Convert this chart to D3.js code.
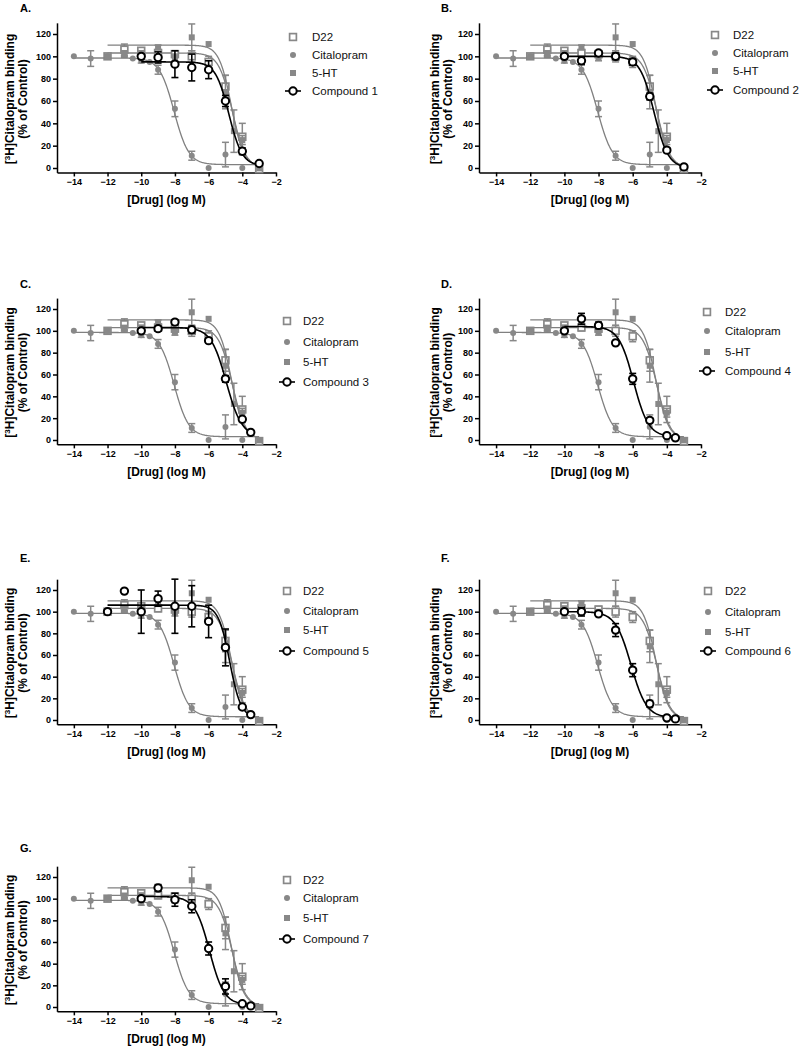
<!DOCTYPE html>
<html><head><meta charset="utf-8">
<script src="https://cdn.jsdelivr.net/npm/d3@7/dist/d3.min.js"></script>
<style>body{margin:0;background:#fff}svg{display:block}</style>
</head><body>
<svg id="chart" width="800" height="1047"></svg>
<script>
// ---------- data ----------
const xTicks = [-14, -12, -10, -8, -6, -4, -2];
const yTicks = [0, 20, 40, 60, 80, 100, 120];
const panelLetters = ["A.", "B.", "C.", "D.", "E.", "F.", "G."];
const refNames = ["D22", "Citalopram", "5-HT"];
const compoundNames = ["Compound 1", "Compound 2", "Compound 3", "Compound 4", "Compound 5", "Compound 6", "Compound 7"];

// reference series (same in every panel)
const d22X   = [-12, -11, -10, -9, -8, -7, -6, -5, -4, -3];
const d22Y   = [100, 106, 105, 103, 102, 100, 95, 73, 28, -1];
const d22Err = [1, 5, 2, 3, 3, 5, 5, 10, 12, 1];

const citX   = [-14, -13, -12, -11, -10.5, -10, -9.5, -9, -8, -7, -6, -5, -4];
const citY   = [100, 98, 100, 102, 98, 96, 95, 88, 53, 11, 0, 12, 0];
const citErr = [0, 7, 0, 3, 0, 2, 0, 4, 7, 4, 0, 11, 0];

const htX    = [-12, -11, -10, -9, -8, -7, -6, -5, -4.5, -4, -3];
const htY    = [100, 102, 103, 108, 99, 117, 111, 68, 33, 25, 0];
const htErr  = [0, 2, 2, 2, 3, 12, 0, 15, 19, 4, 0];

// fitted curve parameters: [top, bottom, logIC50, hill, xStart, xEnd]
const d22Fit = [103, 0, -4.6, 1.1, -12, -3];
const citFit = [98.5, 3, -8.05, 1.0, -14, -3];
const htFit  = [110, 1, -4.65, 1.2, -12, -3];

// test compounds
const c1X = [-10, -9, -8, -7, -6, -5, -4, -3];
const c1Y = [100, 99, 93, 90, 88, 60, 15, 4];
const c1Err = [0, 5, 12, 12, 8, 5, 3, 1];
const c1Fit = [95, 2, -4.8, 1.1, -10, -3];

const c2X = [-10, -9, -8, -7, -6, -5, -4, -3];
const c2Y = [100, 96, 103, 100, 95, 64, 16, 1];
const c2Err = [0, 3, 2, 3, 3, 3, 2, 1];
const c2Fit = [100, 0, -4.75, 1.05, -10, -3];

const c3X = [-10, -9, -8, -7, -6, -5, -4, -3.5];
const c3Y = [100, 102, 108, 101, 91, 56, 19, 7];
const c3Err = [0, 2, 2, 3, 2, 3, 2, 1];
const c3Fit = [103, 3, -4.95, 0.95, -10, -3.5];

const c4X = [-10, -9, -8, -7, -6, -5, -4, -3.5];
const c4Y = [100, 111, 105, 89, 56, 18, 4, 2];
const c4Err = [0, 5, 3, 2, 5, 2, 1, 1];
const c4Fit = [104, 3, -5.95, 1.0, -10, -3.5];

const c5X = [-12, -11, -10, -9, -8, -7, -6, -5, -4, -3.5];
const c5Y = [100, 119, 100, 112, 105, 105, 91, 67, 12, 5];
const c5Err = [1, 0, 20, 7, 25, 19, 15, 17, 2, 1];
const c5Fit = [106, 2, -4.75, 1.3, -12, -3.5];

const c6X = [-10, -9, -8, -7, -6, -5, -4, -3.5];
const c6Y = [100, 100, 98, 83, 46, 15, 2, 1];
const c6Err = [0, 4, 1, 6, 6, 3, 1, 1];
const c6Fit = [100, 2, -6.1, 0.95, -10, -3.5];

const c7X = [-10, -9, -8, -7, -6, -5, -4, -3.5];
const c7Y = [100, 110, 99, 93, 54, 19, 3, 1];
const c7Err = [0, 3, 6, 6, 6, 7, 1, 1];
const c7Fit = [102, 2, -5.95, 1.0, -10, -3.5];

const compX = [c1X, c2X, c3X, c4X, c5X, c6X, c7X];
const compY = [c1Y, c2Y, c3Y, c4Y, c5Y, c6Y, c7Y];
const compErr = [c1Err, c2Err, c3Err, c4Err, c5Err, c6Err, c7Err];
const compFit = [c1Fit, c2Fit, c3Fit, c4Fit, c5Fit, c6Fit, c7Fit];

// ---------- layout ----------
const layout = [
  {ax: 57,  x2: 276, y0: 168,  y120: 34,  lab: [20, 12],   legIcon: 293, legText: 312, legY: [37, 55, 73, 91]},
  {ax: 479, x2: 701, y0: 168,  y120: 34,  lab: [441, 12],  legIcon: 715, legText: 733, legY: [35, 53, 71, 90]},
  {ax: 57,  x2: 276, y0: 440,  y120: 309, lab: [20, 288],  legIcon: 287, legText: 303, legY: [321, 342, 362, 382]},
  {ax: 479, x2: 701, y0: 440,  y120: 309, lab: [441, 288], legIcon: 707, legText: 725, legY: [312, 331, 352, 371]},
  {ax: 57,  x2: 276, y0: 720,  y120: 590, lab: [20, 562],  legIcon: 287, legText: 303, legY: [591, 611, 630, 651]},
  {ax: 479, x2: 701, y0: 720,  y120: 590, lab: [441, 562], legIcon: 708, legText: 725, legY: [591, 612, 632, 651]},
  {ax: 57,  x2: 276, y0: 1007, y120: 877, lab: [20, 852],  legIcon: 287, legText: 303, legY: [880, 898, 918, 939]}
];

const GRAY = "#888888";
const GRAYLINE = "#808080";
const FONT = "'Liberation Sans', Arial, sans-serif";

const svg = d3.select("#chart");

function sig(p, x) {
  const [top, bot, L, h] = p;
  return bot + (top - bot) / (1 + Math.pow(10, (x - L) * h));
}

function drawCurve(g, p, x, y, color, w) {
  const pts = d3.range(p[4], p[5] + 1e-9, 0.04).map(v => [v, sig(p, v)]);
  g.append("path").datum(pts)
    .attr("fill", "none").attr("stroke", color).attr("stroke-width", w)
    .attr("d", d3.line().x(d => x(d[0])).y(d => y(d[1])));
}

function drawErr(g, xs, ys, es, x, y, color, w) {
  xs.forEach((xv, i) => {
    if (!es[i]) return;
    const cx = x(xv), ya = y(ys[i] - es[i]), yb = y(ys[i] + es[i]);
    g.append("line").attr("x1", cx).attr("x2", cx).attr("y1", ya).attr("y2", yb)
      .attr("stroke", color).attr("stroke-width", w);
    [ya, yb].forEach(yy => g.append("line").attr("x1", cx - 3.5).attr("x2", cx + 3.5)
      .attr("y1", yy).attr("y2", yy).attr("stroke", color).attr("stroke-width", w));
  });
}

function marker(g, kind, cx, cy) {
  if (kind === "openSquare") {
    g.append("rect").attr("x", cx - 3.4).attr("y", cy - 3.4).attr("width", 6.8).attr("height", 6.8)
      .attr("fill", "#fff").attr("stroke", GRAY).attr("stroke-width", 1.7);
  } else if (kind === "dot") {
    g.append("circle").attr("cx", cx).attr("cy", cy).attr("r", 3).attr("fill", GRAY);
  } else if (kind === "square") {
    g.append("rect").attr("x", cx - 3).attr("y", cy - 3).attr("width", 6).attr("height", 6).attr("fill", GRAY);
  } else if (kind === "openCircle") {
    g.append("circle").attr("cx", cx).attr("cy", cy).attr("r", 3.7)
      .attr("fill", "#fff").attr("stroke", "#000").attr("stroke-width", 2);
  }
}

layout.forEach((L, pi) => {
  const g = svg.append("g");
  const k = (L.y0 - L.y120) / 120;
  const x = d3.scaleLinear().domain([-15, -2]).range([L.ax, L.x2]);
  const y = d3.scaleLinear().domain([-4, 130]).range([L.y0 + 4 * k, L.y120 - 10 * k]);
  const yAxisPos = y(-4);

  // axes
  const xa = g.append("g").attr("transform", `translate(0,${yAxisPos})`)
    .call(d3.axisBottom(x).tickValues(xTicks).tickSize(4).tickPadding(2).tickSizeOuter(0));
  const ya = g.append("g").attr("transform", `translate(${L.ax},0)`)
    .call(d3.axisLeft(y).tickValues(yTicks).tickSize(4).tickPadding(2).tickSizeOuter(0));
  [xa, ya].forEach(a => {
    a.select(".domain").attr("stroke", "#000").attr("stroke-width", 1.5);
    a.selectAll(".tick line").attr("stroke", "#000").attr("stroke-width", 1.5);
    a.selectAll(".tick text").attr("fill", "#000").style("font", `bold 9px ${FONT}`);
  });

  // axis titles
  g.append("text").attr("x", (L.ax + L.x2) / 2).attr("y", yAxisPos + 32)
    .attr("text-anchor", "middle").style("font", `bold 12px ${FONT}`).text("[Drug] (log M)");
  const cy = (L.y0 + L.y120) / 2 - 2;
  const off = L.ax < 300 ? [-47, -34] : [-44, -31];
  const t1 = g.append("text").attr("transform", `translate(${L.ax + off[0] + 4},${cy}) rotate(-90)`)
    .attr("text-anchor", "middle").style("font", `bold 12px ${FONT}`);
  t1.append("tspan").text("[");
  t1.append("tspan").attr("dy", -4).style("font-size", "8px").text("3");
  t1.append("tspan").attr("dy", 4).text("H]Citalopram binding");
  g.append("text").attr("transform", `translate(${L.ax + off[1] + 4},${cy}) rotate(-90)`)
    .attr("text-anchor", "middle").style("font", `bold 12px ${FONT}`).text("(% of Control)");

  // panel letter
  g.append("text").attr("x", L.lab[0]).attr("y", L.lab[1])
    .style("font", `bold 11px ${FONT}`).text(panelLetters[pi]);

  // reference series: D22
  drawErr(g, d22X, d22Y, d22Err, x, y, GRAY, 1.5);
  drawCurve(g, d22Fit, x, y, GRAYLINE, 1.3);
  d22X.forEach((v, i) => marker(g, "openSquare", x(v), y(d22Y[i])));
  // Citalopram
  drawErr(g, citX, citY, citErr, x, y, GRAY, 1.5);
  drawCurve(g, citFit, x, y, GRAYLINE, 1.3);
  citX.forEach((v, i) => marker(g, "dot", x(v), y(citY[i])));
  // 5-HT
  drawErr(g, htX, htY, htErr, x, y, GRAY, 1.5);
  drawCurve(g, htFit, x, y, GRAYLINE, 1.3);
  htX.forEach((v, i) => marker(g, "square", x(v), y(htY[i])));
  // compound
  drawErr(g, compX[pi], compY[pi], compErr[pi], x, y, "#000", 1.6);
  drawCurve(g, compFit[pi], x, y, "#000", 1.6);
  compX[pi].forEach((v, i) => marker(g, "openCircle", x(v), y(compY[pi][i])));

  // legend
  const names = refNames.concat([compoundNames[pi]]);
  const kinds = ["openSquare", "dot", "square", "openCircle"];
  names.forEach((n, i) => {
    const ly = L.legY[i];
    if (i === 3) {
      g.append("line").attr("x1", L.legIcon - 8).attr("x2", L.legIcon + 8).attr("y1", ly).attr("y2", ly)
        .attr("stroke", "#000").attr("stroke-width", 1.6);
    }
    marker(g, kinds[i], L.legIcon, ly);
    g.append("text").attr("x", L.legText).attr("y", ly).attr("dy", "0.35em")
      .style("font", `11.5px ${FONT}`).attr("fill", "#111").text(n);
  });
});
</script>
</body></html>
